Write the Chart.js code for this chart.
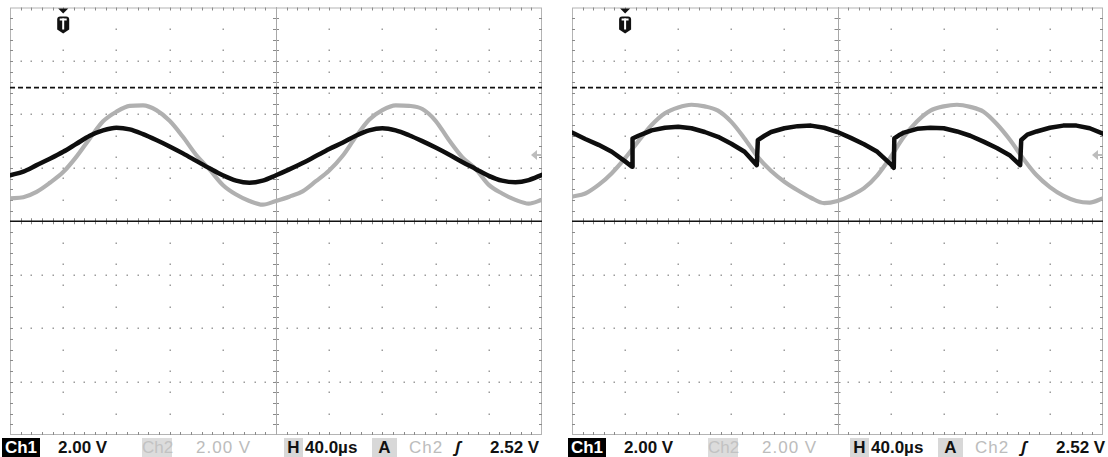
<!DOCTYPE html>
<html>
<head>
<meta charset="utf-8">
<script src="https://cdn.jsdelivr.net/npm/chart.js@4.4.1/dist/chart.umd.min.js"></script>
<style>
  html, body { margin: 0; padding: 0; background: #fff; overflow: hidden; }
  body { width: 1108px; height: 457px; position: relative; }
  canvas { position: absolute; top: 0; }
  .status { position: absolute; top: 438px; height: 19px; width: 550px; }
  .status span { position: absolute; top: 0; height: 19px; line-height: 20px;
    font-family: "Liberation Sans", Arial, sans-serif; font-size: 17px; font-weight: bold;
    color: #111; white-space: nowrap; }
  .status .box { text-align: center; }
  .status .dark { background: #000; color: #fff; }
  .status .light { background: #dcdcdc; color: #c2c2c2; font-weight: normal; }
  .status .mid { background: #d8d8d8; }
  .status .dim { color: #bcbcbc; font-weight: normal; letter-spacing: 1px; }
</style>
</head>
<body>
<canvas id="scopeLeft"></canvas>
<canvas id="scopeRight"></canvas>

<div class="status" style="left:0px">
  <span class="box dark" style="left:2px;width:38px">Ch1</span>
  <span style="left:58px">2.00 V</span>
  <span class="box light" style="left:142px;width:30px">Ch2</span>
  <span class="dim" style="left:196px">2.00 V</span>
  <span class="box mid" style="left:284px;width:19px">H</span>
  <span style="left:305px">40.0µs</span>
  <span class="box mid" style="left:372px;width:25px">A</span>
  <span class="dim" style="left:409px">Ch2</span>
  <span style="left:455px;font-style:italic">ʃ</span>
  <span style="left:490px">2.52 V</span>
</div>
<div class="status" style="left:566px">
  <span class="box dark" style="left:2px;width:38px">Ch1</span>
  <span style="left:58px">2.00 V</span>
  <span class="box light" style="left:142px;width:30px">Ch2</span>
  <span class="dim" style="left:196px">2.00 V</span>
  <span class="box mid" style="left:284px;width:19px">H</span>
  <span style="left:305px">40.0µs</span>
  <span class="box mid" style="left:372px;width:25px">A</span>
  <span class="dim" style="left:409px">Ch2</span>
  <span style="left:455px;font-style:italic">ʃ</span>
  <span style="left:490px">2.52 V</span>
</div>

<script>
// horizontal: 40 us/div, 10 divisions; vertical values in screen divisions (+-4)
const usPerDiv = 40;

// sample times (us), every quarter division
const timeUs = [
  0, 10, 20, 30, 40, 50, 60, 70, 80, 90,
  100, 110, 120, 130, 140, 150, 160, 170, 180, 190,
  200, 210, 220, 230, 240, 250, 260, 270, 280, 290,
  300, 310, 320, 330, 340, 350, 360, 370, 380, 390, 400
];

// left screen: Ch1 (black) and Ch2 (grey)
const ch1Left = [
  0.86, 0.93, 1.05, 1.17, 1.30, 1.45, 1.60, 1.70, 1.75, 1.72,
  1.63, 1.52, 1.40, 1.27, 1.13, 0.99, 0.86, 0.76, 0.72, 0.76,
  0.86, 0.97, 1.09, 1.22, 1.35, 1.47, 1.60, 1.70, 1.74, 1.70,
  1.61, 1.50, 1.38, 1.25, 1.11, 0.98, 0.85, 0.76, 0.73, 0.77, 0.87
];
const ch2Left = [
  0.43, 0.45, 0.55, 0.72, 0.92, 1.21, 1.55, 1.87, 2.05, 2.16,
  2.17, 2.08, 1.88, 1.58, 1.24, 0.97, 0.68, 0.50, 0.38, 0.31,
  0.38, 0.46, 0.56, 0.75, 0.95, 1.22, 1.58, 1.90, 2.08, 2.17,
  2.16, 2.10, 1.88, 1.52, 1.20, 0.98, 0.68, 0.52, 0.40, 0.33, 0.40
];

// right screen: Ch2 (grey) on the same times, Ch1 (black) with its own times for the steps
const ch2Right = [
  0.46, 0.52, 0.68, 0.90, 1.18, 1.50, 1.80, 2.02, 2.13, 2.18,
  2.15, 2.07, 1.86, 1.55, 1.20, 0.94, 0.74, 0.58, 0.44, 0.34,
  0.38, 0.48, 0.62, 0.86, 1.20, 1.58, 1.87, 2.07, 2.15, 2.18,
  2.14, 2.05, 1.82, 1.52, 1.17, 0.86, 0.64, 0.48, 0.38, 0.35, 0.43
];
const ch1RightTimeUs = [
  0, 10, 20, 30, 40, 45.2, 45.6, 50, 55, 60, 70, 80, 90, 100, 110, 120, 130, 139.2,
  140, 145, 150, 160, 170, 180, 190, 200, 210, 220, 230, 240, 242.4,
  242.8, 247, 250, 260, 270, 280, 290, 300, 310, 320, 330, 337.6,
  338.4, 343, 350, 360, 370, 380, 390, 400
];
const ch1Right = [
  1.66, 1.54, 1.43, 1.30, 1.12, 1.02, 1.55, 1.60, 1.65, 1.70, 1.75, 1.77, 1.74, 1.67, 1.58, 1.45, 1.30, 1.05,
  1.52, 1.60, 1.67, 1.74, 1.78, 1.79, 1.75, 1.67, 1.56, 1.44, 1.30, 1.07, 1.00,
  1.55, 1.62, 1.66, 1.73, 1.75, 1.74, 1.68, 1.60, 1.49, 1.37, 1.23, 1.05,
  1.52, 1.62, 1.68, 1.75, 1.79, 1.79, 1.74, 1.64
];

// markers
const trigPosDiv = 1;          // T marker, divisions from left
const ch2GroundDiv = 1.24;     // Ch2 reference arrow
const voltsPerDiv = 2.0;
const trigLevelV = 2.52;

const toPts = (t, v) => t.map((x, i) => ({ x: x, y: v[i] }));

const scopeDraw = {
  id: "scopeDraw",
  beforeDatasetsDraw(chart) {
    const { ctx, chartArea: a, scales: { x, y } } = chart;
    const px = d => x.getPixelForValue(d * usPerDiv);
    const py = v => y.getPixelForValue(v);
    ctx.save();

    // dotted graticule
    ctx.fillStyle = "#9c9c9c";
    for (let i = 1; i < 10; i++) {
      if (i === 5) continue;
      for (let j = 1; j < 20; j++) ctx.fillRect(Math.round(px(i)) - 0.5, Math.round(py(-4 + j * 0.4)) - 0.5, 1.5, 1.5);
    }
    for (let k = -3; k <= 3; k++) {
      if (k === 0) continue;
      for (let j = 1; j < 50; j++) ctx.fillRect(Math.round(px(j / 5)) - 0.5, Math.round(py(k)) - 0.5, 1.5, 1.5);
    }

    // frame with minor ticks
    ctx.strokeStyle = "#b4b4b4";
    ctx.lineWidth = 1;
    ctx.strokeRect(a.left + 0.5, a.top + 0.5, a.right - a.left - 1, a.bottom - a.top - 1);
    ctx.strokeStyle = "#8a8a8a";
    ctx.beginPath();
    for (let j = 1; j < 50; j++) {
      const xx = Math.round(px(j / 5)) + 0.5;
      ctx.moveTo(xx, a.top); ctx.lineTo(xx, a.top + 3);
      ctx.moveTo(xx, a.bottom); ctx.lineTo(xx, a.bottom - 3);
      ctx.moveTo(xx, py(0) - 3); ctx.lineTo(xx, py(0) + 3);
    }
    for (let j = 1; j < 40; j++) {
      const yy = Math.round(py(-4 + j / 5)) + 0.5;
      ctx.moveTo(a.left, yy); ctx.lineTo(a.left + 3, yy);
      ctx.moveTo(a.right, yy); ctx.lineTo(a.right - 3, yy);
      ctx.moveTo(px(5) - 3, yy); ctx.lineTo(px(5) + 3, yy);
    }
    ctx.stroke();

    // centre cross
    ctx.strokeStyle = "#a8a8a8";
    ctx.beginPath();
    ctx.moveTo(Math.round(px(5)) + 0.5, a.top);
    ctx.lineTo(Math.round(px(5)) + 0.5, a.bottom);
    ctx.stroke();
    ctx.strokeStyle = "#111";
    ctx.lineWidth = 1.6;
    ctx.beginPath();
    ctx.moveTo(a.left, py(0));
    ctx.lineTo(a.right, py(0));
    ctx.stroke();

    // trigger level
    const lvl = ch2GroundDiv + trigLevelV / voltsPerDiv;
    ctx.setLineDash([5, 3]);
    ctx.lineWidth = 1.6;
    ctx.beginPath();
    ctx.moveTo(a.left, py(lvl));
    ctx.lineTo(a.right, py(lvl));
    ctx.stroke();
    ctx.restore();
  },
  afterDatasetsDraw(chart) {
    const { ctx, chartArea: a, scales: { x, y } } = chart;
    ctx.save();
    // T marker
    const cx = x.getPixelForValue(trigPosDiv * usPerDiv);
    ctx.fillStyle = "#111";
    ctx.beginPath();
    ctx.moveTo(cx - 5, a.top + 1);
    ctx.lineTo(cx + 5, a.top + 1);
    ctx.lineTo(cx, a.top + 6);
    ctx.closePath();
    ctx.fill();
    ctx.beginPath();
    ctx.moveTo(cx - 6, a.top + 12);
    ctx.quadraticCurveTo(cx - 6, a.top + 9, cx - 3, a.top + 9);
    ctx.lineTo(cx + 3, a.top + 9);
    ctx.quadraticCurveTo(cx + 6, a.top + 9, cx + 6, a.top + 12);
    ctx.lineTo(cx + 6, a.top + 22);
    ctx.lineTo(cx, a.top + 26);
    ctx.lineTo(cx - 6, a.top + 22);
    ctx.closePath();
    ctx.fill();
    ctx.fillStyle = "#fff";
    ctx.fillRect(cx - 3.5, a.top + 11, 7, 2);
    ctx.fillRect(cx - 1, a.top + 11, 2, 11);

    // Ch2 ground arrow
    const gy = y.getPixelForValue(ch2GroundDiv);
    ctx.fillStyle = "#bdbdbd";
    ctx.beginPath();
    ctx.moveTo(a.right - 11, gy);
    ctx.lineTo(a.right - 5, gy - 5);
    ctx.lineTo(a.right - 5, gy + 5);
    ctx.closePath();
    ctx.fill();
    ctx.fillRect(a.right - 6, gy - 1, 5, 2);
    ctx.restore();
  }
};

function makeScope(id, left, width, padRight, ch1Pts, ch2Pts, ch1Smooth) {
  const cv = document.getElementById(id);
  cv.style.left = left + "px";
  cv.width = width;
  cv.height = 437;
  cv.style.width = width + "px";
  cv.style.height = "437px";
  return new Chart(cv.getContext("2d"), {
    type: "line",
    data: {
      datasets: [
        {
          label: "Ch1",
          data: ch1Pts,
          borderColor: "#0e0e0e",
          borderWidth: 4.5,
          borderJoinStyle: "round",
          borderCapStyle: "round",
          pointRadius: 0,
          cubicInterpolationMode: ch1Smooth ? "monotone" : "default",
          tension: 0,
          order: 1
        },
        {
          label: "Ch2",
          data: ch2Pts,
          borderColor: "#b0b0b0",
          borderWidth: 4.2,
          borderJoinStyle: "round",
          pointRadius: 0,
          cubicInterpolationMode: "monotone",
          order: 2
        }
      ]
    },
    options: {
      responsive: false,
      animation: false,
      layout: { padding: { left: 10, right: padRight, top: 7.5, bottom: 2 } },
      plugins: { legend: { display: false }, tooltip: { enabled: false } },
      scales: {
        x: { type: "linear", min: 0, max: 10 * usPerDiv, display: false },
        y: { min: -4, max: 4, display: false }
      }
    },
    plugins: [scopeDraw]
  });
}

makeScope("scopeLeft", 0, 552, 10, toPts(timeUs, ch1Left), toPts(timeUs, ch2Left), true);
makeScope("scopeRight", 562, 546, 5, toPts(ch1RightTimeUs, ch1Right), toPts(timeUs, ch2Right), false);
</script>
</body>
</html>
